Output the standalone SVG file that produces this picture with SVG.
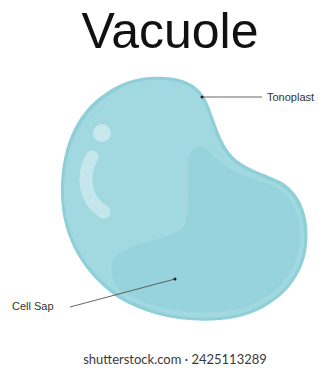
<svg xmlns="http://www.w3.org/2000/svg" width="335" height="371" viewBox="0 0 335 371">
  <style>
    .label { font-family: "Liberation Sans", Arial, sans-serif; font-size: 11px; fill: #333; }
    .lead { stroke: #555; stroke-width: 0.9; fill: none; }
    .dot { fill: #222; }
  </style>
  <rect width="335" height="371" fill="#ffffff"/>
  <text x="170" y="48" text-anchor="middle" font-family="Liberation Sans, Arial, sans-serif" font-size="50" fill="#111">Vacuole</text>

  <g id="vacuole">
    <!-- membrane band -->
    <path d="M150,77 C175,76 195,80 205,98 C213,112 218,138 230,153 C242,168 262,172 282,182 C302,194 310,220 307,245 C304,280 275,310 235,318 C195,325 150,318 118,298 C85,275 62,240 61,195 C60,150 75,112 107,92 C120,83 135,78 150,77 Z" fill="#8ecfd8"/>
    <!-- cell sap body -->
    <path d="M150,80 C173,79 192,83 202,99 C210,113 215,140 227,155 C239,171 260,175 280,185 C299,197 306,221 304,245 C301,278 273,307 235,315 C196,322 152,315 120,295 C88,273 65,239 64,195 C63,152 78,115 109,95 C122,86 136,81 150,80 Z" fill="#a2d9e1"/>
    <!-- deeper region -->
    <path d="M188,160 C190,148 200,142 210,152 C222,166 240,176 268,184 C292,192 302,215 300,242 C297,275 272,302 235,310 C195,317 150,310 120,290 C110,280 108,262 118,254 C135,243 170,238 183,228 C192,215 186,180 188,160 Z" fill="#96d3dc"/>
    <!-- highlights -->
    <circle cx="102" cy="133" r="9" fill="#ffffff" opacity="0.4"/>
    <path d="M92,157 C81,176 85,201 104,212" stroke="#ffffff" stroke-opacity="0.38" stroke-width="13" stroke-linecap="round" fill="none"/>
  </g>

  <g id="connectors">
    <line class="lead" x1="202" y1="97" x2="262" y2="97"/>
    <circle class="dot" cx="202" cy="97" r="1.5"/>
    <line class="lead" x1="175" y1="279" x2="70" y2="307"/>
    <circle class="dot" cx="175" cy="279" r="1.5"/>
  </g>

  <g id="tonoplast-label">
    <text class="label" x="267" y="101">Tonoplast</text>
  </g>
  <g id="cellsap-label">
    <text class="label" x="12" y="310">Cell Sap</text>
  </g>

  <text x="175" y="364" text-anchor="middle" font-family="Lato, 'Liberation Sans', sans-serif" font-size="13" fill="#3a3a3a">shutterstock.com · 2425113289</text>
</svg>
